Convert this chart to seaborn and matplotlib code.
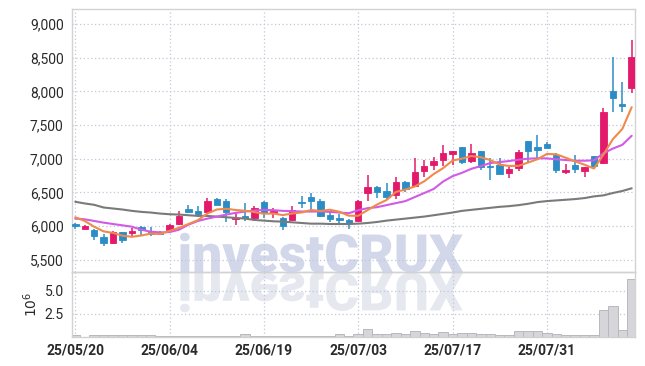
import numpy as np
import matplotlib.pyplot as plt
import seaborn as sns
from matplotlib.textpath import TextPath
from matplotlib.patches import PathPatch
from matplotlib.font_manager import FontProperties
from matplotlib.transforms import Affine2D
import matplotlib.ticker as ticker

# daily candles, 25/05/20 .. 25/08/13 (60 trading days)
opens = [6030, 5960, 5940, 5840, 5755, 5910, 5890, 5980, 5905, 5900,
         5935, 6035, 6260, 6225, 6215, 6400, 6375, 6100, 6155, 6120,
         6350, 6200, 6125, 6095, 6355, 6435, 6375, 6165, 6125, 6090,
         6080, 6490, 6575, 6520, 6455, 6660, 6600, 6810, 6900, 6975,
         7075, 7170, 6965, 7115, 6895, 6905, 6780, 6860, 7265, 7175,
         7225, 7055, 6795, 6905, 6820, 7040, 6940, 8000, 7815, 8045]
highs = [6045, 6015, 5955, 5880, 5930, 5915, 5970, 6000, 5990, 5920,
         6030, 6230, 6310, 6300, 6410, 6410, 6405, 6190, 6340, 6290,
         6365, 6265, 6140, 6290, 6440, 6490, 6400, 6230, 6180, 6100,
         6385, 6760, 6600, 6635, 6725, 6670, 7005, 6980, 7030, 7205,
         7120, 7175, 7220, 7120, 7005, 7015, 6880, 7130, 7265, 7355,
         7245, 7080, 6920, 7055, 6875, 7045, 7750, 8505, 8135, 8765]
lows = [5950, 5950, 5795, 5710, 5730, 5745, 5845, 5850, 5850, 5860,
        5930, 6020, 6190, 6140, 6200, 6310, 6065, 6015, 6070, 6070,
        6120, 6120, 5945, 6085, 6265, 6240, 6135, 6065, 6045, 5955,
        6075, 6365, 6415, 6390, 6400, 6500, 6585, 6735, 6835, 6885,
        6900, 6925, 6940, 6825, 6685, 6775, 6710, 6820, 6955, 6980,
        7160, 6785, 6770, 6785, 6735, 6880, 6915, 7690, 7690, 7970]
closes = [5995, 6000, 5845, 5745, 5905, 5785, 5920, 5940, 5885, 5880,
          6015, 6150, 6215, 6175, 6370, 6315, 6205, 6125, 6120, 6270,
          6190, 6225, 6005, 6240, 6345, 6375, 6150, 6100, 6090, 6050,
          6370, 6575, 6510, 6425, 6650, 6550, 6800, 6895, 6965, 7085,
          7115, 6945, 7085, 6875, 6880, 6775, 6845, 7095, 7115, 7130,
          7165, 6825, 6835, 6850, 6875, 6885, 7690, 7905, 7775, 8510]

ma5 = [6130, 6075, 5990, 5920, 5898, 5856, 5840, 5859, 5887, 5882,
       5928, 5974, 6029, 6087, 6185, 6245, 6256, 6238, 6227, 6207,
       6182, 6186, 6162, 6186, 6201, 6238, 6223, 6242, 6212, 6153,
       6152, 6237, 6319, 6386, 6506, 6542, 6587, 6664, 6772, 6859,
       6972, 7001, 7039, 7021, 6980, 6912, 6892, 6894, 6942, 6992,
       7070, 7066, 7014, 6961, 6910, 6854, 7060, 7290, 7440, 7765]
ma20 = [6110, 6100, 6075, 6050, 6030, 6010, 5990, 5945, 5915, 5905,
        5910, 5945, 6020, 6075, 6110, 6140, 6170, 6195, 6215, 6230,
        6240, 6235, 6225, 6220, 6215, 6215, 6215, 6210, 6200, 6190,
        6235, 6265, 6280, 6310, 6340, 6370, 6430, 6490, 6550, 6660,
        6740, 6790, 6850, 6890, 6935, 6950, 6965, 6985, 7000, 7005,
        7005, 6990, 6980, 6970, 6970, 6975, 7080, 7150, 7205, 7340]
ma60 = [6360, 6335, 6315, 6275, 6260, 6245, 6225, 6210, 6200, 6185,
        6175, 6170, 6160, 6150, 6150, 6140, 6130, 6120, 6110, 6090,
        6080, 6070, 6065, 6055, 6045, 6035, 6035, 6030, 6030, 6030,
        6035, 6045, 6060, 6080, 6095, 6110, 6125, 6140, 6160, 6180,
        6200, 6225, 6240, 6255, 6270, 6285, 6295, 6310, 6330, 6355,
        6370, 6380, 6390, 6400, 6415, 6440, 6455, 6490, 6520, 6560]

# volume in millions of shares
volume = [0.20, 0.05, 0.20, 0.20, 0.20, 0.20, 0.20, 0.20, 0.20, 0.10,
          0.10, 0.15, 0.15, 0.15, 0.15, 0.15, 0.15, 0.15, 0.30, 0.15,
          0.15, 0.15, 0.15, 0.15, 0.15, 0.15, 0.15, 0.15, 0.30, 0.15,
          0.35, 0.90, 0.30, 0.30, 0.40, 0.30, 0.60, 0.40, 0.30, 0.50,
          0.30, 0.40, 0.40, 0.30, 0.30, 0.20, 0.20, 0.60, 0.60, 0.60,
          0.40, 0.30, 0.20, 0.20, 0.20, 0.20, 2.90, 3.30, 0.80, 6.30]

tick_pos = [0, 10, 20, 30, 40, 50]
tick_labels = ["25/05/20", "25/06/04", "25/06/19", "25/07/03", "25/07/17", "25/07/31"]

RED = "#e3196b"
BLUE = "#2b8dc6"
ORANGE = "#f08a4b"
VIOLET = "#d35ae6"
GRAY = "#7a7a7a"
GRID = "#c3c7d9"
SPINE = "#d2d2d2"
TXT = "#2a2a2a"

sns.set_theme(style="white")
plt.rcParams["font.family"] = ["Roboto", "DejaVu Sans"]

W, H = 645, 366
fig = plt.figure(figsize=(W / 100, H / 100), dpi=100)
fig.patch.set_facecolor("white")
ax = fig.add_axes([72 / W, 1 - 272 / H, (635 - 72) / W, (272 - 9) / H])
vax = fig.add_axes([72 / W, 1 - 337 / H, (635 - 72) / W, (337 - 272) / H], sharex=ax)

x = np.arange(len(closes))
o = np.array(opens)
c = np.array(closes)
cols = np.where(c >= o, RED, BLUE)

for a in (ax, vax):
    a.set_facecolor("none")
    for s in a.spines.values():
        s.set_color(SPINE)
        s.set_linewidth(1)
    a.grid(True, linestyle=(0, (1, 2)), color=GRID, linewidth=0.9)
    a.set_axisbelow(True)
    a.tick_params(length=0, colors=TXT)

# candles
ax.vlines(x, lows, highs, colors=cols, linewidth=1.1, zorder=2)
ax.bar(x, np.abs(c - o), bottom=np.minimum(o, c), width=0.68, color=cols,
       edgecolor=cols, linewidth=0.6, zorder=3)

# moving averages
sns.lineplot(x=x, y=ma60, ax=ax, color=GRAY, linewidth=1.5, zorder=4)
sns.lineplot(x=x, y=ma20, ax=ax, color=VIOLET, linewidth=1.5, zorder=4)
sns.lineplot(x=x, y=ma5, ax=ax, color=ORANGE, linewidth=1.5, zorder=5)

ax.set_ylim(5317, 9223)
ax.set_yticks(np.arange(5500, 9001, 500))
ax.yaxis.set_major_formatter(ticker.FuncFormatter(lambda v, p: f"{int(v):,}"))
ax.tick_params(axis="y", labelsize=10, pad=6)
ax.tick_params(axis="x", labelbottom=False)
ax.set_xlabel("")
ax.set_ylabel("")

# volume
sns.barplot(x=x, y=volume, ax=vax, native_scale=True, width=1.0, color="#d6d6da",
            edgecolor="#b9b9bd", linewidth=0.7, saturation=1, errorbar=None, zorder=2)
vax.set_ylim(0, 7.0)
vax.set_yticks([2.5, 5.0])
vax.yaxis.set_major_formatter(ticker.FormatStrFormatter("%.1f"))
vax.tick_params(axis="y", labelsize=10, pad=6)
vax.set_ylabel(r"$10^6$", fontsize=10, color=TXT, labelpad=3)
vax.set_xlabel("")
vax.set_xticks(tick_pos)
vax.set_xticklabels(tick_labels, fontsize=10, fontweight="bold")
vax.tick_params(axis="x", pad=5)
vax.set_xlim(-0.35, 59.35)

# watermark with reflection
fp = FontProperties(family="Roboto", weight="black")
tp = TextPath((0, 0), "investCRUX", size=1, prop=fp)
cap = TextPath((0, 0), "C", size=1, prop=fp).get_extents()
ext = tp.get_extents()
sx = 283 / ext.width
sy = 38 / cap.y1
tx = 180 - ext.x0 * sx
base = H - 272
main_tr = Affine2D().scale(sx / 100, sy / 100).translate(tx / 100, base / 100) + fig.dpi_scale_trans
refl_tr = Affine2D().scale(sx / 100, -sy / 100).translate(tx / 100, (base - 1) / 100) + fig.dpi_scale_trans
fig.add_artist(PathPatch(tp, transform=refl_tr, facecolor="#e6e8f0", edgecolor="none", zorder=-2))
fig.add_artist(PathPatch(tp, transform=main_tr, facecolor="#d2d7ea", edgecolor="none", zorder=-1))

fig.savefig("out.png", dpi=100, facecolor="white")
